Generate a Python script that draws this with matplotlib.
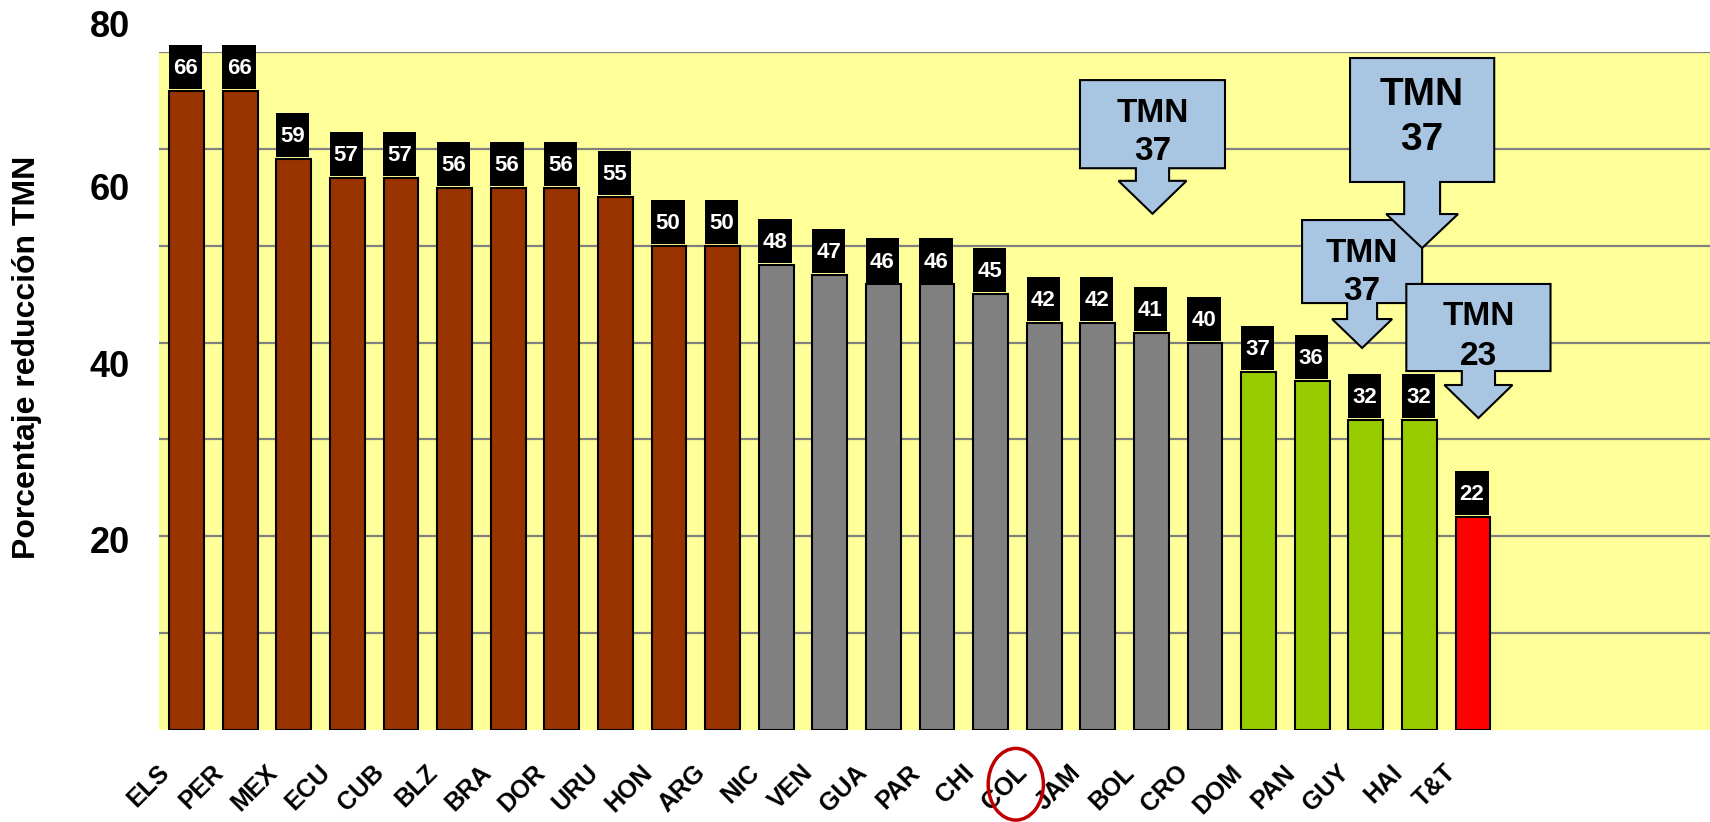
import numpy as np
import matplotlib.pyplot as plt
import matplotlib.transforms as mtransforms
from matplotlib.patches import Rectangle, Polygon, Ellipse

# datos: reducción porcentual de TMN por país
paises = ['ELS', 'PER', 'MEX', 'ECU', 'CUB', 'BLZ', 'BRA', 'DOR', 'URU', 'HON',
          'ARG', 'NIC', 'VEN', 'GUA', 'PAR', 'CHI', 'COL', 'JAM', 'BOL', 'CRO',
          'DOM', 'PAN', 'GUY', 'HAI', 'T&T']
valores = [66, 66, 59, 57, 57, 56, 56, 56, 55, 50,
           50, 48, 47, 46, 46, 45, 42, 42, 41, 40,
           37, 36, 32, 32, 22]
grupos = ['alto'] * 11 + ['medio'] * 9 + ['bajo'] * 4 + ['min']
colores_grupo = {'alto': '#993300', 'medio': '#808080', 'bajo': '#99CC00', 'min': '#FF0000'}

# etiquetas del eje y
eje_y_txt = ['20', '40', '60', '80']
eje_y_pos = [19.3, 37.4, 55.7, 72.5]

# recuadros TMN: (texto, valor)
tmn_txt = ['TMN', 'TMN', 'TMN', 'TMN']
tmn_val = [37, 37, 37, 23]

plt.rcParams['font.family'] = ['Liberation Sans', 'DejaVu Sans']
plt.rcParams['font.weight'] = 'bold'

fig = plt.figure(figsize=(17.1, 8.22), dpi=100)
ax = fig.add_axes([159 / 1710, 92 / 822, 1551 / 1710, 678 / 822])

x = np.arange(len(paises))
colores = [colores_grupo[g] for g in grupos]
ax.bar(x, valores, width=0.65, color=colores, edgecolor='black', linewidth=1.5, zorder=3)

ax.set_xlim(-0.513, 28.42)
ax.set_ylim(0, 70)
ax.set_facecolor('#FFFF99')
ax.set_yticks(np.arange(10, 71, 10))
ax.yaxis.grid(True, color='#808080', linewidth=1.6)
ax.set_axisbelow(True)
ax.tick_params(axis='y', length=0, labelleft=False)
ax.tick_params(axis='x', length=0, pad=22)
for s in ax.spines.values():
    s.set_visible(False)

ax.set_xticks(x)
ax.set_xticklabels(paises, rotation=45, ha='right', fontsize=18, fontweight='bold')
# correr las etiquetas un poco a la izquierda
desplaza = mtransforms.ScaledTranslation(-12 / 100, 0, fig.dpi_scale_trans)
for lab in ax.get_xticklabels():
    lab.set_transform(lab.get_transform() + desplaza)

# etiquetas del eje y (fuera de escala, como texto)
for t, p in zip(eje_y_txt, eje_y_pos):
    ax.text(-0.0187, p, t, transform=ax.get_yaxis_transform(), ha='right', va='center',
            fontsize=26, fontweight='bold', clip_on=False)

fig.text(27 / 1710, 1 - 357 / 822, 'Porcentaje reducción TMN', rotation=90,
         ha='center', va='center', fontsize=23, fontweight='bold')

# valores en recuadro negro sobre cada barra
for xi, v in zip(x, valores):
    ax.add_patch(Rectangle((xi - 0.33, v + 0.2), 0.62, 4.55, facecolor='black',
                           edgecolor='none', zorder=4, clip_on=False))
    ax.text(xi - 0.02, v + 0.2 + 1.55, str(v), color='white', fontsize=16,
            fontweight='bold', ha='center', va='baseline', zorder=5, clip_on=False)


def flecha(cx, w, top, bottom, sw, hw, head_y, tip_y, t1, t2, y1, y2, fs, z):
    pts = [(cx - w / 2, top), (cx + w / 2, top), (cx + w / 2, bottom),
           (cx + sw / 2, bottom), (cx + sw / 2, head_y), (cx + hw / 2, head_y),
           (cx, tip_y), (cx - hw / 2, head_y), (cx - sw / 2, head_y),
           (cx - sw / 2, bottom), (cx - w / 2, bottom)]
    ax.add_patch(Polygon(pts, closed=True, facecolor='#A8C5E2', edgecolor='black',
                         linewidth=1.5, zorder=z, clip_on=False))
    ax.text(cx, y1, t1, ha='center', va='center_baseline', fontsize=fs,
            fontweight='bold', zorder=z + 0.5)
    ax.text(cx, y2, t2, ha='center', va='center_baseline', fontsize=fs,
            fontweight='bold', zorder=z + 0.5)


# llamadas TMN
flecha(18.02, 2.705, 67.1, 58.0, 0.62, 1.27, 56.7, 53.3,
       tmn_txt[0], str(tmn_val[0]), 64.0, 60.1, 24, 6)
flecha(21.93, 2.24, 52.65, 44.08, 0.56, 1.12, 42.43, 39.44,
       tmn_txt[2], str(tmn_val[2]), 49.6, 45.6, 24, 6)
flecha(23.05, 2.69, 69.38, 56.58, 0.67, 1.34, 53.27, 49.76,
       tmn_txt[1], str(tmn_val[1]), 66.0, 61.3, 28, 7)
flecha(24.1, 2.69, 46.05, 37.06, 0.62, 1.27, 35.62, 32.21,
       tmn_txt[3], str(tmn_val[3]), 43.05, 38.9, 24, 8)

# círculo sobre Colombia
i_col = paises.index('COL')
ax.add_patch(Ellipse((i_col - 0.53, -5.6), 1.03, 7.4, facecolor='none',
                     edgecolor='#C00000', linewidth=2.5, clip_on=False, zorder=6))

plt.savefig('out.png', dpi=100)
